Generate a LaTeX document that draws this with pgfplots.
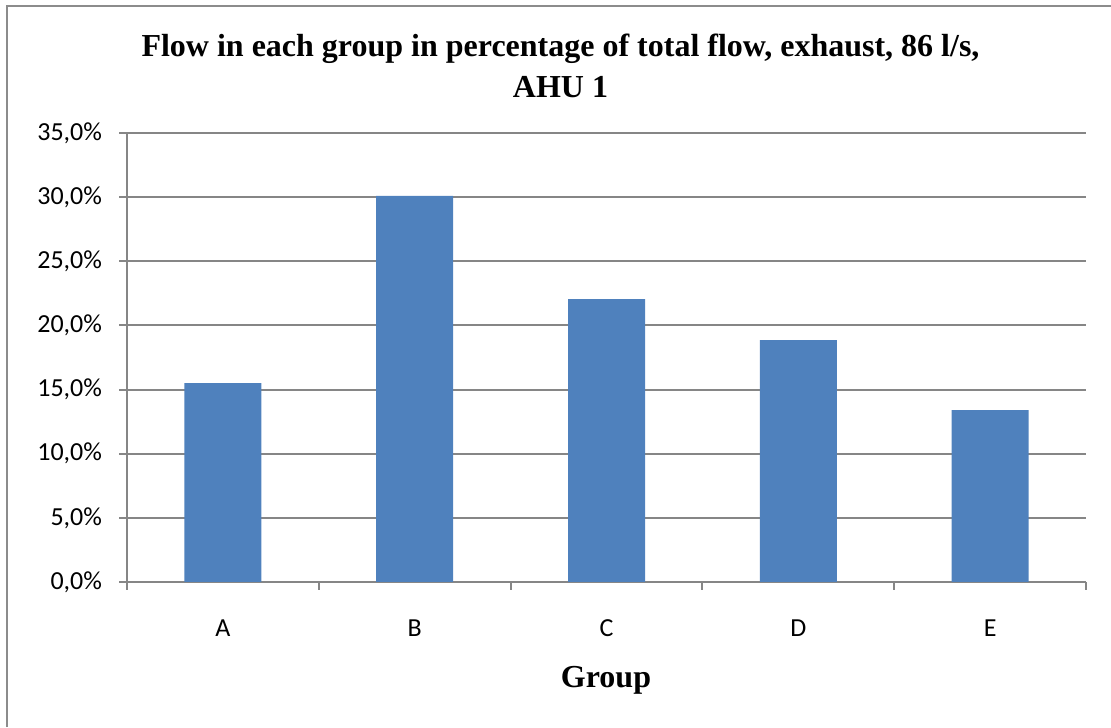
\documentclass[border=0pt]{standalone}
\usepackage{pgfplots}
\pgfplotsset{compat=1.18}
\usepackage{fontspec}
\setmainfont{Liberation Serif}
\newfontfamily\calibri{Carlito}
\definecolor{barblue}{HTML}{4F81BD}
\definecolor{gridgray}{HTML}{868686}
\definecolor{framegray}{HTML}{8C8C8C}
\begin{document}
\begin{tikzpicture}[x=1pt,y=1pt]
\useasboundingbox (0,0) rectangle (555.5,363.5);
\draw[framegray, line width=1pt] (3.5,0) -- (3.5,360.5) -- (555.5,360.5);
\node[align=center, font=\bfseries\fontsize{16}{20.5}\selectfont] at (280.25,330.5)
  {Flow in each group in percentage of total flow, exhaust, 86 l/s,\\AHU 1};
\node[font=\bfseries\fontsize{16}{16}\selectfont] at (303,23.5) {Group};
\begin{axis}[
  at={(63.5pt,72.5pt)}, anchor=south west,
  scale only axis, width=479.5pt, height=224.5pt,
  xmin=-0.5, xmax=4.5, ymin=0, ymax=35,
  ybar, bar width=38.5pt,
  axis lines*=left,
  axis line style={gridgray, line width=1pt},
  xtick={0,1,2,3,4},
  xticklabels={A,B,C,D,E},
  minor xtick={-0.5,0.5,1.5,2.5,3.5,4.5},
  major x tick style={draw=none},
  minor x tick style={gridgray, line width=1pt},
  minor tick length=4pt,
  ytick={0,5,10,15,20,25,30,35},
  yticklabels={{0,0\%},{5,0\%},{10,0\%},{15,0\%},{20,0\%},{25,0\%},{30,0\%},{35,0\%}},
  major y tick style={gridgray, line width=1pt},
  major tick length=4pt,
  tick align=outside,
  ymajorgrids,
  major grid style={gridgray, line width=1pt},
  ticklabel style={font=\calibri\fontsize{13}{13}\selectfont, text=black},
  xticklabel style={yshift=-11.5pt},
  yticklabel style={xshift=-5pt},
  clip=false,
]
\addplot[fill=barblue, draw=none] coordinates {(0,15.5) (1,30.1) (2,22.05) (3,18.85) (4,13.4)};
\end{axis}
\end{tikzpicture}
\end{document}
